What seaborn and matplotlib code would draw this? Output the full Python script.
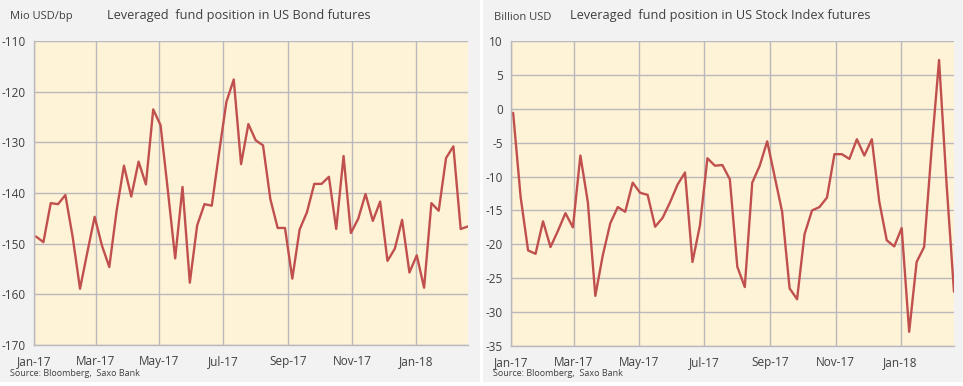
import pandas as pd
import matplotlib.pyplot as plt
import matplotlib.dates as mdates
from matplotlib.patches import Rectangle
import seaborn as sns

# weekly observations, Jan-2017 to Feb-2018
dates = pd.date_range('2017-01-03', periods=60, freq='7D')

bond_pos = [-148.6, -149.7, -142.0, -142.2, -140.4, -148.7, -158.9, -151.7, -144.7, -150.4,
            -154.6, -143.5, -134.6, -140.7, -133.8, -138.3, -123.5, -126.6, -139.5, -152.9,
            -138.8, -157.7, -146.4, -142.2, -142.5, -132.0, -122.0, -117.6, -134.3, -126.4,
            -129.6, -130.6, -141.2, -146.9, -146.9, -156.9, -147.2, -143.8, -138.2, -138.2,
            -136.8, -147.1, -132.7, -147.9, -145.1, -140.2, -145.5, -141.7, -153.4, -151.0,
            -145.3, -155.7, -152.3, -158.7, -142.0, -143.5, -133.1, -130.8, -147.1, -146.6]

stock_pos = [-0.6, -13.0, -20.9, -21.4, -16.6, -20.4, -18.0, -15.4, -17.5, -6.9,
             -13.8, -27.6, -21.6, -16.9, -14.5, -15.2, -10.9, -12.4, -12.7, -17.4,
             -16.1, -13.8, -11.2, -9.4, -22.6, -17.2, -7.3, -8.4, -8.3, -10.4,
             -23.3, -26.3, -10.9, -8.4, -4.8, -10.0, -15.2, -26.5, -28.1, -18.5,
             -15.0, -14.5, -13.1, -6.7, -6.7, -7.4, -4.5, -6.9, -4.5, -13.7,
             -19.4, -20.3, -17.6, -32.9, -22.6, -20.4, -6.0, 7.2, -11.0, -27.0]

bond_ticks = [-110, -120, -130, -140, -150, -160, -170]
stock_ticks = [10, 5, 0, -5, -10, -15, -20, -25, -30, -35]

titles = ['Leveraged  fund position in US Bond futures',
          'Leveraged  fund position in US Stock Index futures']
units = ['Mio USD/bp', 'Billion USD']
source = 'Source: Bloomberg,  Saxo Bank'

sns.set_style('white')
plt.rcParams['font.family'] = ['Open Sans', 'DejaVu Sans']
plt.rcParams['axes.unicode_minus'] = False

txt = '#404040'
grid = '#b9b9bd'
red = '#c0504d'

fig = plt.figure(figsize=(9.63, 3.86), dpi=100)
fig.patch.set_facecolor('white')
W, H = 963, 386

# grey panel backgrounds with a white gap between
fig.patches.append(Rectangle((0, 4 / H), 480 / W, 1 - 4 / H, transform=fig.transFigure,
                             facecolor='#f2f2f2', edgecolor='none', zorder=-10))
fig.patches.append(Rectangle((483 / W, 4 / H), 1 - 483 / W, 1 - 4 / H, transform=fig.transFigure,
                             facecolor='#f2f2f2', edgecolor='none', zorder=-10))

boxes = [(34, 468, 41, 345), (511, 954, 41, 346)]
series = [bond_pos, stock_pos]
ticks = [bond_ticks, stock_ticks]
unit_x = [10, 494]
title_x = [107, 570]
src_x = [10, 493]

for i in range(2):
    x0, x1, y0, y1 = boxes[i]
    ax = fig.add_axes([x0 / W, 1 - y1 / H, (x1 - x0) / W, (y1 - y0) / H])
    df = pd.DataFrame({'date': dates, 'value': series[i]})
    sns.lineplot(data=df, x='date', y='value', ax=ax, color=red, linewidth=1.7)
    ax.set_facecolor('#fff3d7')
    ax.set_ylim(min(ticks[i]), max(ticks[i]))
    ax.set_yticks(ticks[i])
    ax.set_xlim(pd.Timestamp('2017-01-01'), dates[-1])
    ax.xaxis.set_major_locator(mdates.MonthLocator(bymonth=[1, 3, 5, 7, 9, 11]))
    ax.xaxis.set_major_formatter(mdates.DateFormatter('%b-%y'))
    ax.grid(True, color=grid, linewidth=1)
    ax.set_axisbelow(True)
    for s in ['top', 'right']:
        ax.spines[s].set_visible(False)
    for s in ['left', 'bottom']:
        ax.spines[s].set_color(grid)
        ax.spines[s].set_linewidth(1)
    ax.tick_params(axis='y', length=4, width=1, color=grid, labelsize=8.5, labelcolor=txt, pad=2)
    ax.tick_params(axis='x', length=0, labelsize=8.5, labelcolor=txt, pad=7)
    ax.set_xlabel('')
    ax.set_ylabel('')
    fig.text(unit_x[i] / W, 1 - 17 / H, units[i], fontsize=8, color=txt, va='center', ha='left')
    fig.text(title_x[i] / W, 1 - 15 / H, titles[i], fontsize=9.2, color=txt, va='center', ha='left')
    fig.text(src_x[i] / W, 1 - 374 / H, source, fontsize=6.5, color=txt, va='center', ha='left')

fig.savefig('out.png', dpi=100)
